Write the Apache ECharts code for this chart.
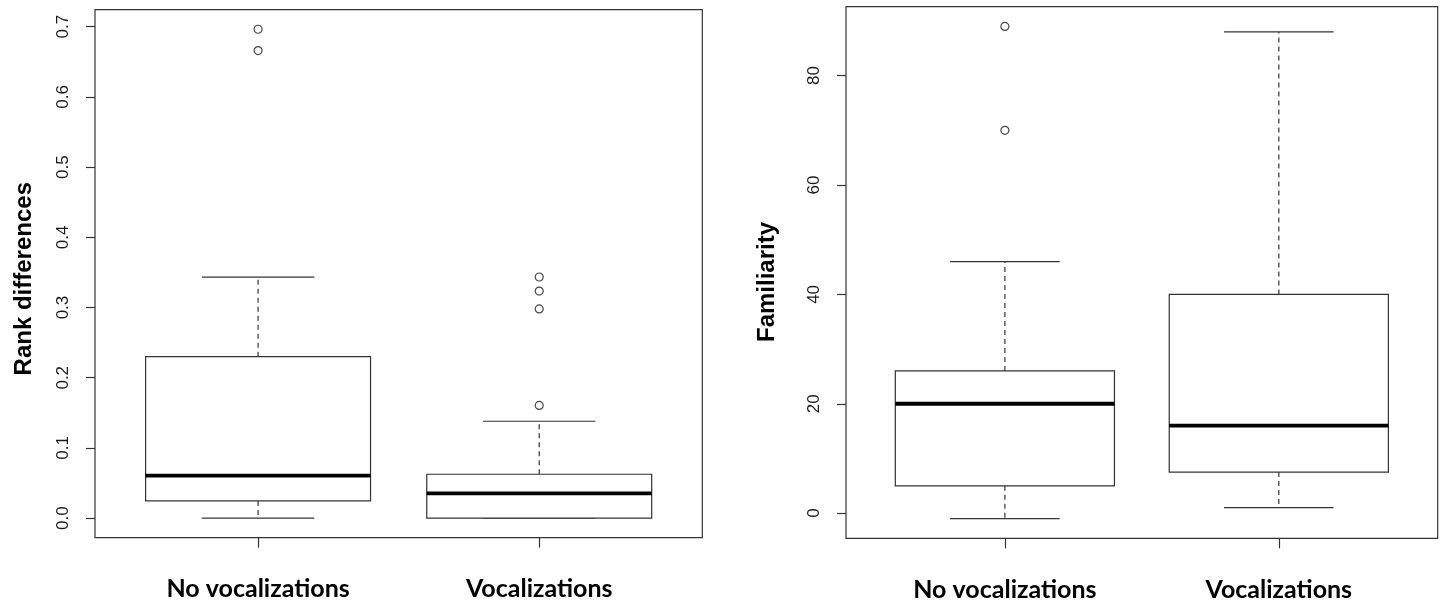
<!DOCTYPE html>
<html>
<head>
<meta charset="utf-8">
<script src="https://cdn.jsdelivr.net/npm/echarts@6/dist/echarts.min.js"></script>
<style>
html,body{margin:0;padding:0;background:#fff;}
#chart{width:1440px;height:605px;}
</style>
</head>
<body>
<div id="chart"></div>
<script>
// ---- data ----
const categories = ['No vocalizations', 'Vocalizations'];
// boxplot stats: [lower whisker, Q1, median, Q3, upper whisker]
const rankNoVoc = [0, 0.0245, 0.0606, 0.2300, 0.3432];
const rankVoc = [0, 0, 0.0354, 0.0625, 0.1380];
const rankOutliersNoVoc = [0.6964, 0.6660];
const rankOutliersVoc = [0.1605, 0.2980, 0.3235, 0.3435];
const famNoVoc = [-1, 5, 20, 26, 46];
const famVoc = [1, 7.5, 16, 40, 88];
const famOutliersNoVoc = [70, 89];
const famOutliersVoc = [];
const rankTicks = [0, 0.1, 0.2, 0.3, 0.4, 0.5, 0.6, 0.7];
const famTicks = [0, 20, 40, 60, 80];
const categoryPositions = [1, 2];

// R-style ranges (data range extended by 4%)
function rRange(vals) {
  const lo = Math.min(...vals), hi = Math.max(...vals);
  const d = (hi - lo) * 0.04;
  return [lo - d, hi + d];
}
const rankRange = rRange([].concat(rankNoVoc, rankVoc, rankOutliersNoVoc, rankOutliersVoc));
const famRange = rRange([].concat(famNoVoc, famVoc, famOutliersNoVoc, famOutliersVoc));
const xRange = [0.5 - 0.08, 2.5 + 0.08];

const INK = '#1a1a1a';
const LINE = '#333';

function renderBox(params, api) {
  const x = api.value(0);
  const lo = api.value(1), q1 = api.value(2), md = api.value(3), q3 = api.value(4), hi = api.value(5);
  const hw = 0.4, cw = 0.2;
  const tl = api.coord([x - hw, q3]);
  const br = api.coord([x + hw, q1]);
  const line = (a, b, style) => ({
    type: 'line',
    shape: { x1: a[0], y1: a[1], x2: b[0], y2: b[1] },
    style: Object.assign({ stroke: LINE, lineWidth: 1.2 }, style || {})
  });
  return {
    type: 'group',
    children: [
      line(api.coord([x, q3]), api.coord([x, hi]), { lineDash: [5, 4] }),
      line(api.coord([x, q1]), api.coord([x, lo]), { lineDash: [5, 4] }),
      line(api.coord([x - cw, hi]), api.coord([x + cw, hi])),
      line(api.coord([x - cw, lo]), api.coord([x + cw, lo])),
      {
        type: 'rect',
        shape: { x: tl[0], y: tl[1], width: br[0] - tl[0], height: br[1] - tl[1] },
        style: { fill: '#fff', stroke: LINE, lineWidth: 1.2 }
      },
      line(api.coord([x - hw, md]), api.coord([x + hw, md]), { stroke: '#000', lineWidth: 3.8 })
    ]
  };
}

function outlierPoints(pos, arr) { return arr.map(v => [pos, v]); }

function yAxisCfg(gridIndex, range, ticks, name, nameGap, shiftDown, fmt) {
  return {
    type: 'value', gridIndex: gridIndex, position: 'left',
    min: range[0], max: range[1],
    name: name, nameLocation: 'middle', nameRotate: 90, nameGap: nameGap,
    nameTextStyle: {
      fontFamily: 'Liberation Sans', fontWeight: 'bold', fontSize: 24, color: '#000',
      padding: [0, shiftDown * 2, 0, 0]
    },
    axisLine: { show: false, onZero: false },
    axisTick: { show: true, length: 9, customValues: ticks, lineStyle: { color: LINE, width: 1.2 } },
    axisLabel: {
      show: true, rotate: 90, margin: 23.5, customValues: ticks,
      formatter: fmt,
      fontFamily: 'Liberation Sans', fontSize: 17, color: INK
    },
    splitLine: { show: false }
  };
}

function xAxisCfg(gridIndex) {
  return {
    type: 'value', gridIndex: gridIndex, position: 'bottom',
    min: xRange[0], max: xRange[1],
    axisLine: { show: false, onZero: false },
    axisTick: { show: true, length: 10, customValues: categoryPositions, lineStyle: { color: LINE, width: 1.2 } },
    axisLabel: {
      show: true, margin: 39, customValues: categoryPositions,
      formatter: v => categories[Math.round(v) - 1] || '',
      fontFamily: 'Lato', fontWeight: 'bold', fontSize: 25, color: '#000', lineHeight: 25
    },
    splitLine: { show: false }
  };
}

const chart = echarts.init(document.getElementById('chart'), null, { renderer: 'canvas' });
chart.setOption({
  backgroundColor: '#fff',
  animation: false,
  grid: [
    { left: 95, top: 9.7, width: 607.3, height: 528, show: true, borderColor: LINE, borderWidth: 1.2, backgroundColor: 'transparent' },
    { left: 846, top: 6.7, width: 591.7, height: 531.6, show: true, borderColor: LINE, borderWidth: 1.2, backgroundColor: 'transparent' }
  ],
  xAxis: [xAxisCfg(0), xAxisCfg(1)],
  yAxis: [
    yAxisCfg(0, rankRange, rankTicks, 'Rank differences', 59, 5, v => v.toFixed(1)),
    yAxisCfg(1, famRange, famTicks, 'Familiarity', 67, 9.5, v => String(Math.round(v)))
  ],
  series: [
    {
      type: 'custom', xAxisIndex: 0, yAxisIndex: 0, renderItem: renderBox,
      encode: { x: 0, y: [1, 2, 3, 4, 5] },
      data: [[categoryPositions[0]].concat(rankNoVoc), [categoryPositions[1]].concat(rankVoc)],
      z: 2
    },
    {
      type: 'scatter', xAxisIndex: 0, yAxisIndex: 0, symbol: 'circle', symbolSize: 8,
      itemStyle: { color: 'rgba(0,0,0,0)', borderColor: INK, borderWidth: 1.2 },
      data: outlierPoints(categoryPositions[0], rankOutliersNoVoc).concat(outlierPoints(categoryPositions[1], rankOutliersVoc)),
      z: 3
    },
    {
      type: 'custom', xAxisIndex: 1, yAxisIndex: 1, renderItem: renderBox,
      encode: { x: 0, y: [1, 2, 3, 4, 5] },
      data: [[categoryPositions[0]].concat(famNoVoc), [categoryPositions[1]].concat(famVoc)],
      z: 2
    },
    {
      type: 'scatter', xAxisIndex: 1, yAxisIndex: 1, symbol: 'circle', symbolSize: 8,
      itemStyle: { color: 'rgba(0,0,0,0)', borderColor: INK, borderWidth: 1.2 },
      data: outlierPoints(categoryPositions[0], famOutliersNoVoc).concat(outlierPoints(categoryPositions[1], famOutliersVoc)),
      z: 3
    }
  ]
});
</script>
</body>
</html>
